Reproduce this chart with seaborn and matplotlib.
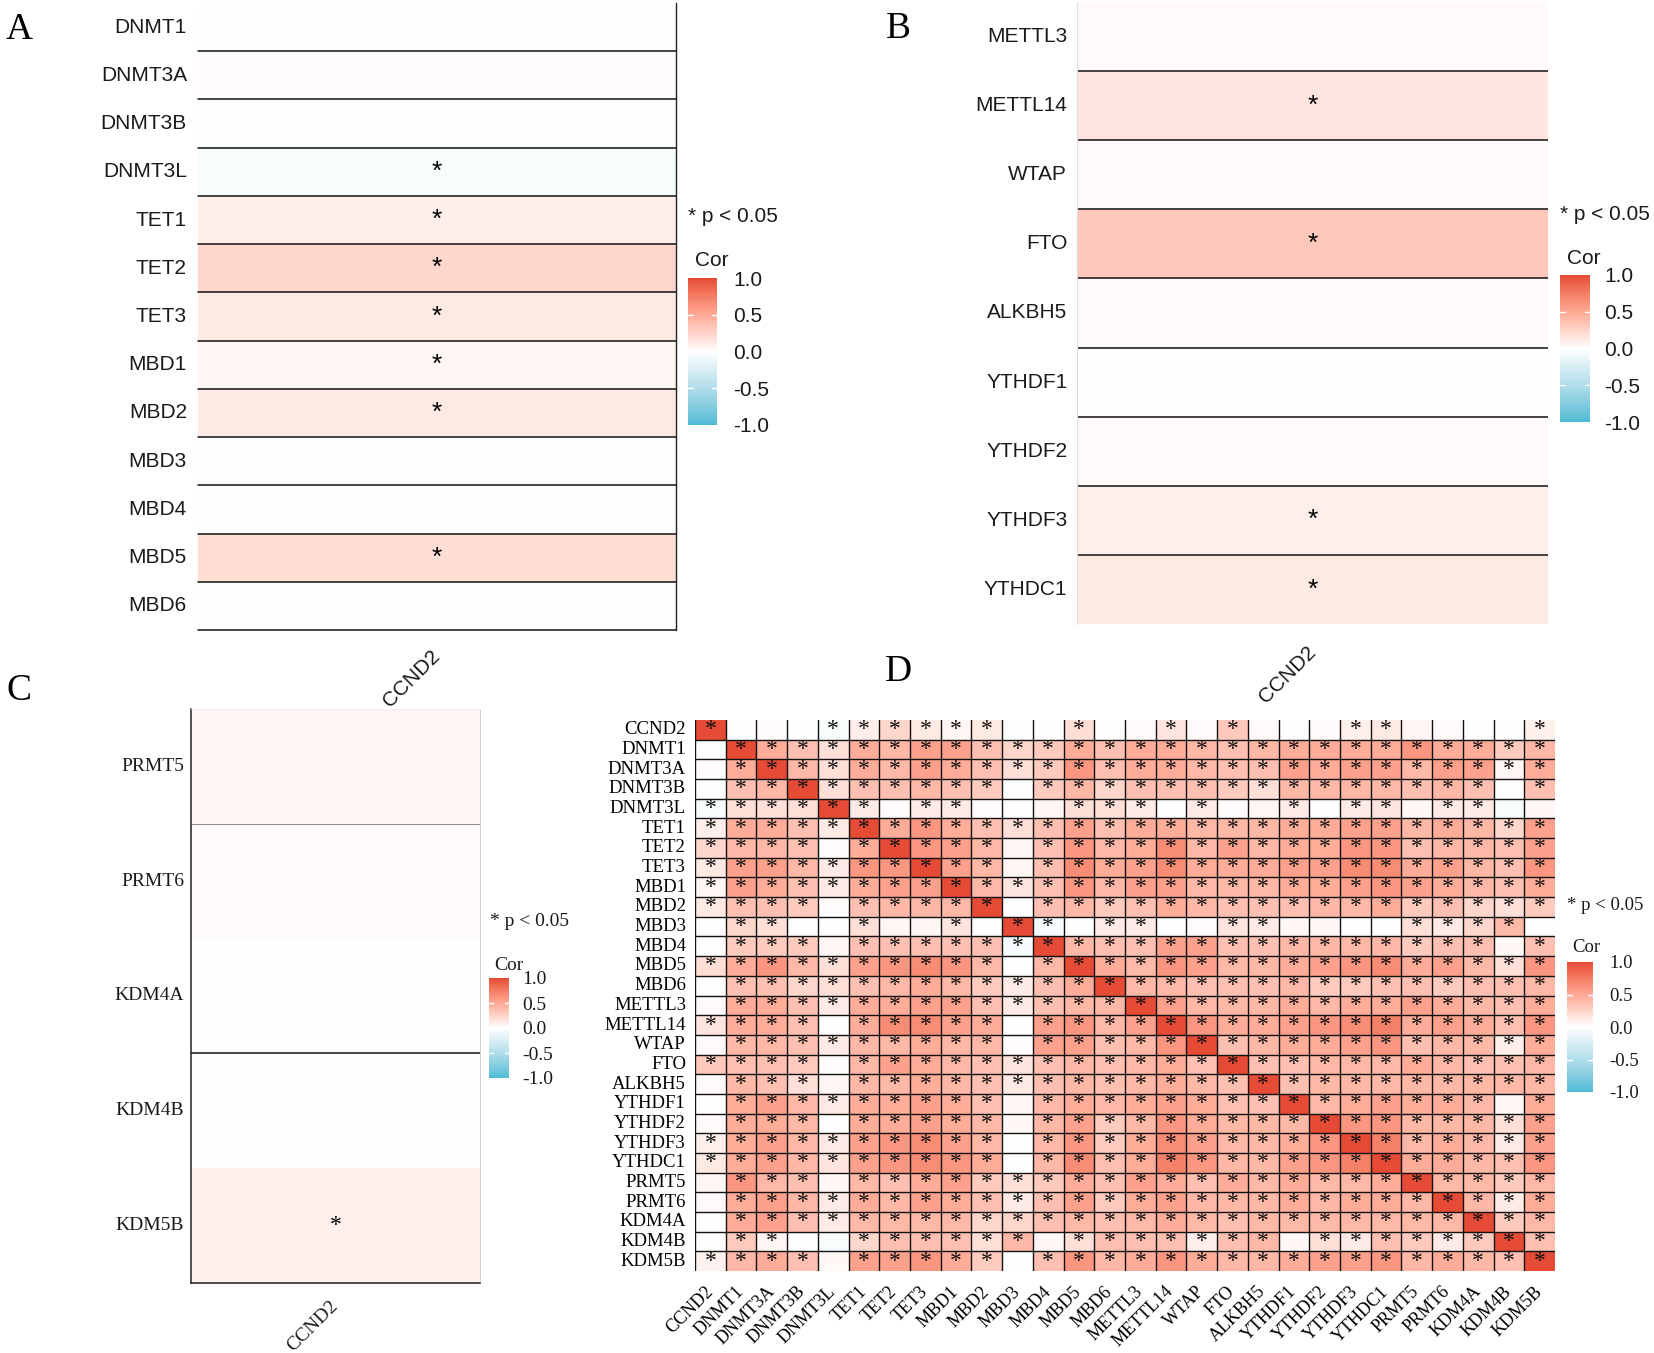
import numpy as np
import pandas as pd
import matplotlib
matplotlib.use("Agg")
import matplotlib.pyplot as plt
import seaborn as sns
from matplotlib.colors import ListedColormap, Normalize, to_rgb
from matplotlib.cm import ScalarMappable

# ---------------- data ----------------
genes_A = ["DNMT1", "DNMT3A", "DNMT3B", "DNMT3L", "TET1", "TET2", "TET3",
           "MBD1", "MBD2", "MBD3", "MBD4", "MBD5", "MBD6"]
cor_A = [0.00, 0.02, 0.00, -0.05, 0.10, 0.24, 0.13, 0.06, 0.13, 0.00, 0.00, 0.19, 0.00]
sig_A = [0, 0, 0, 1, 1, 1, 1, 1, 1, 0, 0, 1, 0]

genes_B = ["METTL3", "METTL14", "WTAP", "FTO", "ALKBH5", "YTHDF1", "YTHDF2",
           "YTHDF3", "YTHDC1"]
cor_B = [0.03, 0.15, 0.03, 0.32, 0.03, 0.00, 0.03, 0.09, 0.13]
sig_B = [0, 1, 0, 1, 0, 0, 0, 1, 1]

genes_C = ["PRMT5", "PRMT6", "KDM4A", "KDM4B", "KDM5B"]
cor_C = [0.05, 0.03, 0.00, 0.00, 0.08]
sig_C = [0, 0, 0, 0, 1]

target = "CCND2"
genes_D = [target] + genes_A + genes_B + genes_C

# lower triangle of the regulator-regulator correlation matrix (panel D),
# row i lists columns 1 .. i-1 (column 0 = CCND2 comes from panels A-C)
tri_D = {
    "DNMT3A": [0.48],
    "DNMT3B": [0.36, 0.42],
    "DNMT3L": [0.18, 0.18, 0.18],
    "TET1": [0.48, 0.48, 0.36, 0.12],
    "TET2": [0.42, 0.42, 0.36, 0.02, 0.48],
    "TET3": [0.54, 0.54, 0.42, 0.12, 0.60, 0.60],
    "MBD1": [0.54, 0.48, 0.36, 0.12, 0.48, 0.54, 0.54],
    "MBD2": [0.36, 0.36, 0.30, 0.02, 0.36, 0.42, 0.42, 0.42],
    "MBD3": [0.24, 0.18, 0.00, 0.00, 0.18, 0.06, 0.06, 0.15, 0.00],
    "MBD4": [0.30, 0.30, 0.30, 0.06, 0.36, 0.36, 0.36, 0.36, 0.36, -0.06],
    "MBD5": [0.48, 0.60, 0.42, 0.18, 0.54, 0.60, 0.66, 0.60, 0.42, 0.00, 0.42],
    "MBD6": [0.36, 0.36, 0.24, 0.18, 0.36, 0.42, 0.48, 0.42, 0.30, 0.12, 0.36, 0.48],
    "METTL3": [0.48, 0.48, 0.36, 0.12, 0.48, 0.48, 0.54, 0.54, 0.36, 0.12, 0.36, 0.42, 0.42],
    "METTL14": [0.48, 0.48, 0.36, 0.00, 0.48, 0.66, 0.66, 0.54, 0.48, 0.00, 0.54, 0.60, 0.42,
                0.54],
    "WTAP": [0.42, 0.42, 0.36, 0.12, 0.42, 0.42, 0.48, 0.42, 0.42, 0.02, 0.54, 0.54, 0.36,
             0.42, 0.60],
    "FTO": [0.36, 0.36, 0.30, 0.02, 0.42, 0.54, 0.48, 0.42, 0.36, 0.15, 0.36, 0.42, 0.36,
            0.42, 0.48, 0.36],
    "ALKBH5": [0.42, 0.36, 0.18, 0.06, 0.42, 0.42, 0.48, 0.42, 0.36, 0.12, 0.36, 0.42, 0.36,
               0.42, 0.48, 0.42, 0.36],
    "YTHDF1": [0.48, 0.54, 0.42, 0.12, 0.48, 0.48, 0.54, 0.48, 0.36, 0.04, 0.42, 0.48, 0.42,
               0.48, 0.54, 0.48, 0.36, 0.36],
    "YTHDF2": [0.48, 0.48, 0.42, 0.00, 0.48, 0.48, 0.54, 0.48, 0.42, 0.04, 0.42, 0.54, 0.30,
               0.42, 0.60, 0.48, 0.42, 0.42, 0.42],
    "YTHDF3": [0.48, 0.54, 0.42, 0.12, 0.54, 0.60, 0.66, 0.54, 0.42, 0.00, 0.42, 0.60, 0.30,
               0.48, 0.66, 0.54, 0.42, 0.42, 0.48, 0.60],
    "YTHDC1": [0.48, 0.54, 0.42, 0.15, 0.54, 0.60, 0.66, 0.60, 0.48, 0.00, 0.42, 0.66, 0.36,
               0.48, 0.72, 0.60, 0.42, 0.42, 0.54, 0.60, 0.72],
    "PRMT5": [0.60, 0.42, 0.36, 0.04, 0.42, 0.36, 0.48, 0.54, 0.30, 0.18, 0.30, 0.48, 0.36,
              0.54, 0.48, 0.36, 0.48, 0.42, 0.48, 0.42, 0.42, 0.48],
    "PRMT6": [0.48, 0.54, 0.42, 0.12, 0.48, 0.42, 0.54, 0.48, 0.36, 0.12, 0.36, 0.54, 0.30,
              0.48, 0.54, 0.42, 0.42, 0.42, 0.48, 0.42, 0.48, 0.48, 0.42],
    "KDM4A": [0.48, 0.54, 0.36, 0.12, 0.42, 0.42, 0.42, 0.42, 0.24, 0.24, 0.36, 0.42, 0.36,
              0.42, 0.48, 0.42, 0.36, 0.42, 0.42, 0.42, 0.42, 0.42, 0.42, 0.42],
    "KDM4B": [0.30, 0.06, 0.00, -0.04, 0.24, 0.36, 0.36, 0.36, 0.18, 0.42, 0.04, 0.18, 0.36,
              0.36, 0.36, 0.10, 0.36, 0.42, 0.04, 0.18, 0.12, 0.36, 0.30, 0.12, 0.30],
    "KDM5B": [0.42, 0.48, 0.36, 0.04, 0.54, 0.54, 0.60, 0.48, 0.30, 0.00, 0.36, 0.60, 0.42,
              0.48, 0.60, 0.48, 0.42, 0.42, 0.48, 0.54, 0.54, 0.60, 0.42, 0.48, 0.42, 0.36],
}
# regulator pairs that are NOT significant (p >= 0.05) in panel D
nonsig_D = [
    ("TET2", "DNMT3L"), ("MBD2", "DNMT3L"),
    ("MBD3", "DNMT3B"), ("MBD3", "DNMT3L"), ("MBD3", "TET2"), ("MBD3", "TET3"), ("MBD3", "MBD2"),
    ("MBD4", "DNMT3L"), ("MBD5", "MBD3"),
    ("METTL14", "DNMT3L"), ("METTL14", "MBD3"), ("WTAP", "MBD3"),
    ("FTO", "DNMT3L"), ("ALKBH5", "DNMT3L"), ("YTHDF1", "MBD3"),
    ("YTHDF2", "DNMT3L"), ("YTHDF2", "MBD3"), ("YTHDF3", "MBD3"), ("YTHDC1", "MBD3"),
    ("PRMT5", "DNMT3L"),
    ("KDM4B", "DNMT3B"), ("KDM4B", "DNMT3L"), ("KDM4B", "MBD4"), ("KDM4B", "YTHDF1"),
    ("KDM5B", "DNMT3L"), ("KDM5B", "MBD3"),
]

# ---------------- build matrix D ----------------
n = len(genes_D)
idx = {g: i for i, g in enumerate(genes_D)}
M = np.eye(n)
S = np.eye(n, dtype=bool)
for j, (v, s) in enumerate(zip(cor_A + cor_B + cor_C, sig_A + sig_B + sig_C), start=1):
    M[0, j] = M[j, 0] = v
    S[0, j] = S[j, 0] = bool(s)
for g, vals in tri_D.items():
    i = idx[g]
    for k, v in enumerate(vals, start=1):
        M[i, k] = M[k, i] = v
        S[i, k] = S[k, i] = True
for a, b in nonsig_D:
    S[idx[a], idx[b]] = S[idx[b], idx[a]] = False
dfD = pd.DataFrame(M, index=genes_D, columns=genes_D)
annD = np.where(S, "*", "")


# ---------------- colour scale (Lab interpolation, like ggplot gradient2) --------
def _srgb_to_lab(c):
    c = np.asarray(c, float)
    lin = np.where(c <= 0.04045, c / 12.92, ((c + 0.055) / 1.055) ** 2.4)
    m = np.array([[0.4124, 0.3576, 0.1805], [0.2126, 0.7152, 0.0722], [0.0193, 0.1192, 0.9505]])
    xyz = m @ lin / np.array([0.95047, 1.0, 1.08883])
    f = np.where(xyz > 0.008856, np.cbrt(xyz), 7.787 * xyz + 16 / 116)
    return np.array([116 * f[1] - 16, 500 * (f[0] - f[1]), 200 * (f[1] - f[2])])


def _lab_to_srgb(lab):
    L, a, b = lab
    fy = (L + 16) / 116
    fx = fy + a / 500
    fz = fy - b / 200
    f = np.array([fx, fy, fz])
    xyz = np.where(f ** 3 > 0.008856, f ** 3, (f - 16 / 116) / 7.787) * np.array([0.95047, 1.0, 1.08883])
    mi = np.array([[3.2406, -1.5372, -0.4986], [-0.9689, 1.8758, 0.0415], [0.0557, -0.2040, 1.0570]])
    lin = np.clip(mi @ xyz, 0, 1)
    return np.clip(np.where(lin <= 0.0031308, 12.92 * lin, 1.055 * lin ** (1 / 2.4) - 0.055), 0, 1)


low, mid, high = (_srgb_to_lab(to_rgb(c)) for c in ("#4DBBD5", "#FFFFFF", "#E64B35"))
cols = []
for t in np.linspace(-1, 1, 256):
    lab = mid + (high - mid) * t if t >= 0 else mid + (low - mid) * (-t)
    cols.append(_lab_to_srgb(lab))
cmap = ListedColormap(cols, name="cor")
norm = Normalize(-1, 1)

# ---------------- style ----------------
sns.set_theme(style="white")
plt.rcParams["font.family"] = ["Liberation Sans", "DejaVu Sans"]
SANS = "Liberation Sans"
SERIF = "Liberation Serif"

W, H = 1654, 1353
fig = plt.figure(figsize=(W / 100, H / 100), dpi=100)
fig.patch.set_facecolor("white")


def px_axes(x0, y0, x1, y1):
    return fig.add_axes([x0 / W, 1 - y1 / H, (x1 - x0) / W, (y1 - y0) / H])


def ftext(x, y, s, **kw):
    fig.text(x / W, 1 - y / H, s, **kw)


def single_panel(ax, genes, cors, sigs, family, fs, star_fs, ypad, xpad):
    df = pd.DataFrame({target: cors}, index=genes)
    ann = np.array([["*" if s else ""] for s in sigs])
    sns.heatmap(df, ax=ax, cmap=cmap, vmin=-1, vmax=1, cbar=False,
                annot=ann, fmt="", xticklabels=True, yticklabels=True,
                annot_kws={"fontsize": star_fs, "color": "black", "family": family})
    ax.set_yticklabels(genes, rotation=0, fontsize=fs, fontfamily=family, color="#1a1a1a")
    ax.set_xticklabels([target], rotation=45, ha="right", va="center",
                       rotation_mode="anchor", fontsize=fs, fontfamily=family,
                       color="#1a1a1a")
    ax.tick_params(axis="y", length=0, pad=ypad)
    ax.tick_params(axis="x", length=0, pad=xpad)
    ax.set_xlabel("")
    ax.set_ylabel("")
    for sp in ax.spines.values():
        sp.set_visible(False)


def legend(x_txt, y_txt, x_cor, y_cor, cb_box, family, fs, lab_pad):
    ftext(x_txt, y_txt, "* p < 0.05", ha="left", va="center", fontsize=fs,
          family=family, color="#1a1a1a")
    ftext(x_cor, y_cor, "Cor", ha="left", va="center", fontsize=fs,
          family=family, color="#1a1a1a")
    cax = px_axes(*cb_box)
    cb = fig.colorbar(ScalarMappable(norm=norm, cmap=cmap), cax=cax)
    cb.outline.set_visible(False)
    cb.set_ticks([1, 0.5, 0, -0.5, -1])
    cb.set_ticklabels(["1.0", "0.5", "0.0", "-0.5", "-1.0"])
    cax.tick_params(length=0, pad=lab_pad, labelsize=fs, labelcolor="#1a1a1a")
    for lab in cax.get_yticklabels():
        lab.set_fontfamily(family)
    for v in (0.5, -0.5):
        cax.plot([0, 0.18], [v, v], color="white", lw=1)
        cax.plot([0.82, 1], [v, v], color="white", lw=1)


# ---------------- panel A ----------------
axA = px_axes(198, 3, 676, 630)
single_panel(axA, genes_A, cor_A, sig_A, SANS, 15, 19, 8, 17)
for k in range(1, len(genes_A) + 1):
    axA.axhline(k, color="#111111", lw=1.1, clip_on=False)
axA.spines["right"].set_visible(True)
axA.spines["right"].set_color("#222222")
axA.spines["right"].set_linewidth(1.0)
legend(688, 216, 695, 261, (688, 278, 717, 425), SANS, 15, 11.5)

# ---------------- panel B ----------------
axB = px_axes(1077, 2, 1548, 624)
single_panel(axB, genes_B, cor_B, sig_B, SANS, 15, 19, 7, 18)
for k in range(1, len(genes_B)):
    axB.axhline(k, color="#111111", lw=1.1)
axB.spines["left"].set_visible(True)
axB.spines["left"].set_color("#dddddd")
axB.spines["left"].set_linewidth(0.8)
legend(1560, 214, 1567, 259, (1560, 275, 1590, 422), SANS, 15, 10)

# ---------------- panel C ----------------
axC = px_axes(191, 709, 480, 1283)
single_panel(axC, genes_C, cor_C, sig_C, SERIF, 14, 17, 5, 15)
axC.axhline(1, color="#888888", lw=0.7)
axC.axhline(3, color="#111111", lw=1.1)
for side, col, lw in (("left", "#222222", 1.1), ("bottom", "#222222", 1.1),
                      ("right", "#cccccc", 0.6), ("top", "#eeeeee", 0.6)):
    axC.spines[side].set_visible(True)
    axC.spines[side].set_color(col)
    axC.spines[side].set_linewidth(lw)
legend(490, 921, 494, 965, (489, 978, 509, 1078), SERIF, 14, 9.5)

# ---------------- panel D ----------------
axD = px_axes(695, 720, 1555, 1271)
sns.heatmap(dfD, ax=axD, cmap=cmap, vmin=-1, vmax=1, cbar=False,
            annot=annD, fmt="", xticklabels=True, yticklabels=True,
            annot_kws={"fontsize": 17, "color": "#111111", "family": SERIF})
axD.set_yticklabels(genes_D, rotation=0, fontsize=13.5, fontfamily=SERIF, color="black")
axD.set_xticklabels(genes_D, rotation=45, ha="right", va="center",
                    rotation_mode="anchor", fontsize=13, fontfamily=SERIF, color="black")
axD.tick_params(axis="y", length=0, pad=6.5)
axD.tick_params(axis="x", length=0, pad=13)
axD.set_xlabel("")
axD.set_ylabel("")
for sp in axD.spines.values():
    sp.set_visible(False)
for k in range(1, n):
    axD.axhline(k, color="#111111", lw=1.0)
for k in range(0, n):
    axD.axvline(k, color="#111111", lw=1.0)
legend(1567, 905, 1572, 948, (1567, 962, 1593, 1092), SERIF, 13.5, 12)

# ---------------- panel letters ----------------
for letter, x, y in (("A", 19, 30), ("B", 898, 29), ("C", 19, 691), ("D", 898, 672)):
    ftext(x, y, letter, ha="center", va="center", fontsize=27, family=SERIF, color="black")

fig.savefig("out.png", dpi=100, facecolor="white")
